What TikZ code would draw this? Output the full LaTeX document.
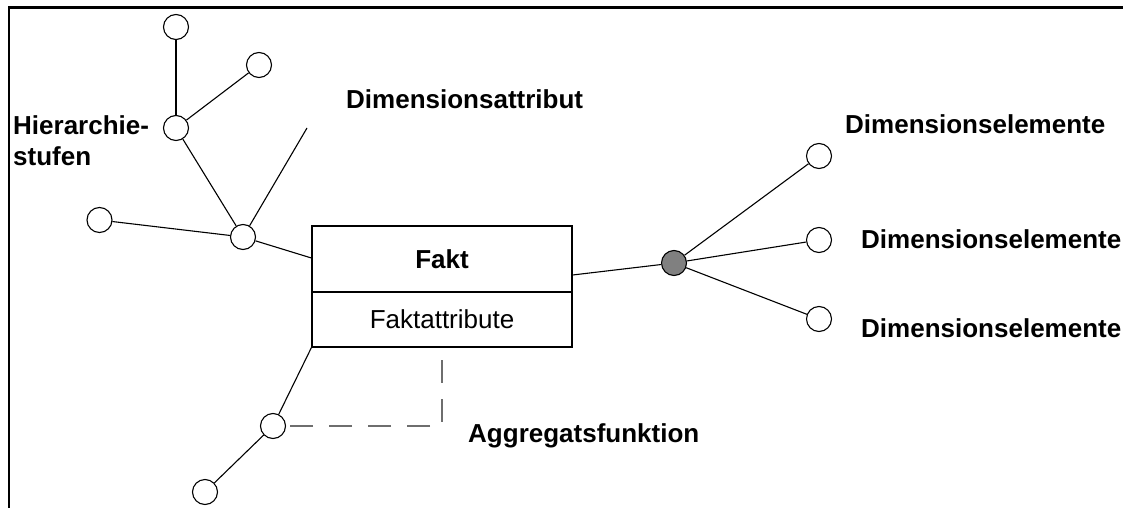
\documentclass[tikz,border=0pt]{standalone}
\usepackage{fontspec}
\setmainfont{Liberation Sans}
\begin{document}
\begin{tikzpicture}[x=1pt,y=-1pt,
  elem/.style={circle,draw,fill=white,minimum size=25pt,inner sep=0pt,line width=1.1pt},
  keyelem/.style={elem,fill={rgb,255:red,128;green,128;blue,128}},
  link/.style={line width=1.1pt},
  aggr/.style={line width=1.3pt,draw={rgb,255:red,110;green,110;blue,110},dash pattern=on 23pt off 16pt},
  factbox/.style={draw,line width=1.2pt,minimum width=260pt,inner sep=0pt,font=\fontsize{26}{30}\selectfont},
  lbl/.style={font=\bfseries\fontsize{26}{30}\selectfont,inner sep=0pt,anchor=base west},
 ]
\useasboundingbox (0,0) rectangle (1123,508);

% frame (top and left edges)
\draw[line width=2.2pt] (9,508) -- (9,7.5) -- (1123,7.5);

% fact with its attributes
\node[factbox,minimum height=66pt] (fakt) at (442,259) {\bfseries Fakt};
\node[factbox,minimum height=55pt] (attr) at (442,319.5) {Faktattribute};

% dimension hierarchy on the left
\node[elem] (h0) at (176,27) {};
\node[elem] (h2) at (259,65) {};
\node[elem] (h1) at (176,128) {};
\node[elem] (lf) at (99.5,220) {};
\node[elem] (d)  at (243,237) {};
\coordinate (da) at (307,128);

\draw[link] (h0) -- (h1);
\draw[link] (h2) -- (h1);
\draw[link] (h1) -- (d);
\draw[link] (lf) -- (d);
\draw[link] (d) -- (da);
\draw[link] (d) -- ([yshift=1pt]fakt.west);

% dimension with its elements on the right
\node[keyelem] (g) at (674,263) {};
\node[elem] (e1) at (819,156) {};
\node[elem] (e2) at (819,240) {};
\node[elem] (e3) at (819,319) {};

\draw[link] ([yshift=-16pt]fakt.east) -- (g);
\draw[link] (g) -- (e1);
\draw[link] (g) -- (e2);
\draw[link] (g) -- (e3);

% aggregation branch
\node[elem] (a)  at (273,426) {};
\node[elem] (a2) at (205,492) {};
\coordinate (ag) at (442,360);

\draw[link] (attr.south west) -- (a);
\draw[link] (a) -- (a2);
\draw[aggr] (ag) |- (a);

% labels
\node[lbl] (lh1) at (13,135) {Hierarchie-};
\node[lbl] (lh2) at (13,165) {stufen};
\node[lbl] (lda) at (346,109) {Dimensionsattribut};
\node[lbl] (le1) at (845,133) {Dimensionselemente};
\node[lbl] (le2) at (861,248) {Dimensionselemente};
\node[lbl] (le3) at (861,337) {Dimensionselemente};
\node[lbl] (lag) at (468,442) {Aggregatsfunktion};
\end{tikzpicture}
\end{document}
